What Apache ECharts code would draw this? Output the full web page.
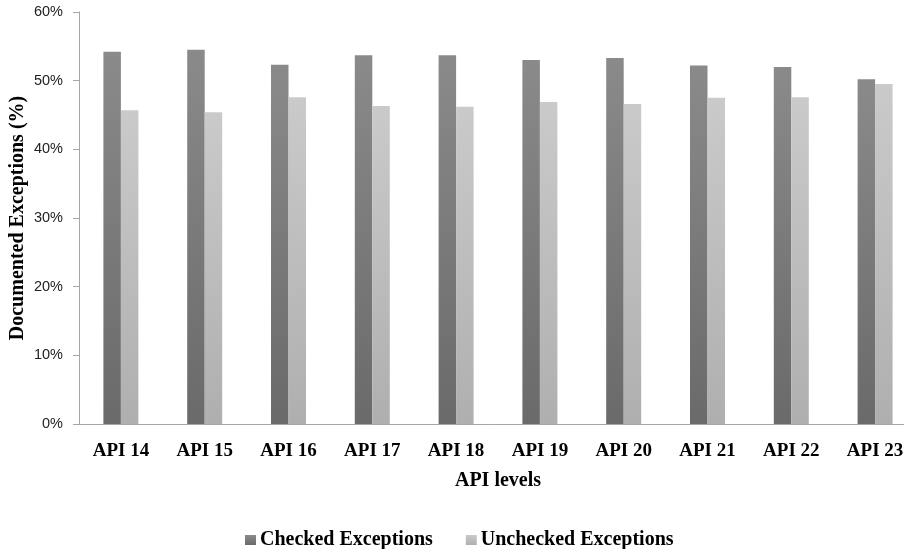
<!DOCTYPE html>
<html>
<head>
<meta charset="utf-8">
<script src="https://cdn.jsdelivr.net/npm/echarts@6/dist/echarts.min.js"></script>
<style>
  html, body { margin: 0; padding: 0; background: #fff; }
  #chart { width: 904px; height: 549px; }
</style>
</head>
<body>
<div id="chart"></div>
<script>
// API levels on the x axis
var apiLevels = ['API 14', 'API 15', 'API 16', 'API 17', 'API 18', 'API 19', 'API 20', 'API 21', 'API 22', 'API 23'];
// Share of documented exceptions per API level (%)
var checkedPct = [54.2, 54.5, 52.3, 53.7, 53.7, 53.0, 53.3, 52.2, 52.0, 50.2];
var uncheckedPct = [45.7, 45.4, 47.6, 46.3, 46.2, 46.9, 46.6, 47.5, 47.6, 49.5];
// Y axis tick values
var yTicks = [0, 10, 20, 30, 40, 50, 60];

function vGrad(top, bottom) {
  return new echarts.graphic.LinearGradient(0, 0, 0, 1, [
    { offset: 0, color: top },
    { offset: 1, color: bottom }
  ]);
}

var serif = '"Liberation Serif", "Times New Roman", serif';
var chart = echarts.init(document.getElementById('chart'), null, { renderer: 'canvas' });

chart.setOption({
  animation: false,
  backgroundColor: '#ffffff',
  // plot area runs past the right edge of the canvas
  grid: { left: 79, top: 12, width: 838, height: 412, containLabel: false, outerBoundsMode: 'none' },
  legend: {
    top: 525,
    left: 240,
    itemWidth: 11,
    itemHeight: 10,
    itemGap: 33,
    icon: 'rect',
    textStyle: { fontFamily: serif, fontWeight: 'bold', fontSize: 20, color: '#000', padding: [0, 0, 0, -1] },
    data: ['Checked Exceptions', 'Unchecked Exceptions']
  },
  xAxis: {
    type: 'category',
    data: apiLevels,
    name: 'API levels',
    nameLocation: 'middle',
    nameGap: 47,
    nameMoveOverlap: false,
    nameTextStyle: { fontFamily: serif, fontWeight: 'bold', fontSize: 20, color: '#000' },
    axisLine: { lineStyle: { color: '#a6a6a6', width: 1 } },
    axisTick: { show: false },
    axisLabel: { fontFamily: serif, fontWeight: 'bold', fontSize: 19, color: '#000', margin: 18 }
  },
  yAxis: {
    type: 'value',
    min: yTicks[0],
    max: yTicks[yTicks.length - 1],
    interval: 10,
    name: 'Documented Exceptions (%)',
    nameLocation: 'middle',
    nameGap: 51,
    nameMoveOverlap: false,
    nameTextStyle: { fontFamily: serif, fontWeight: 'bold', fontSize: 20, color: '#000' },
    splitLine: { show: false },
    axisLine: { show: true, lineStyle: { color: '#a6a6a6', width: 1 } },
    axisTick: { show: true, length: 6, lineStyle: { color: '#a6a6a6' } },
    axisLabel: {
      fontFamily: '"Liberation Sans", Arial, sans-serif',
      fontSize: 14.5,
      color: '#222',
      margin: 16,
      formatter: function (v) { return v + '%'; }
    }
  },
  series: [
    {
      name: 'Checked Exceptions',
      type: 'bar',
      data: checkedPct,
      barWidth: 17.5,
      barGap: '0%',
      itemStyle: { color: vGrad('#8a8a8a', '#6a6a6a') }
    },
    {
      name: 'Unchecked Exceptions',
      type: 'bar',
      data: uncheckedPct,
      barWidth: 17.5,
      barGap: '0%',
      itemStyle: { color: vGrad('#cacaca', '#afafaf') }
    }
  ]
});
</script>
</body>
</html>
